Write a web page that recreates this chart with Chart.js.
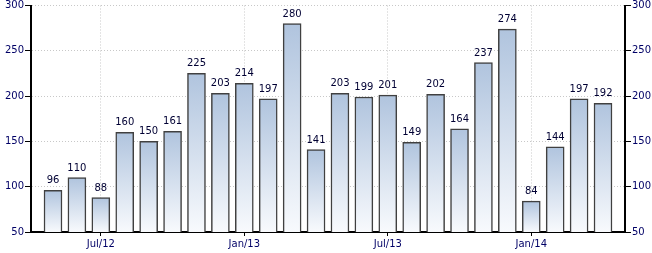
<!DOCTYPE html>
<html>
<head>
<meta charset="utf-8">
<script src="https://cdn.jsdelivr.net/npm/chart.js@4"></script>
<style>
  html, body { margin: 0; padding: 0; background: #fff; }
  #wrap { width: 652px; height: 253px; }
</style>
</head>
<body>
<div id="wrap"><canvas id="chart" width="652" height="253"></canvas></div>
<script>
// May 2012 .. Apr 2014
const months = ["May/12","Jun/12","Jul/12","Aug/12","Sep/12","Oct/12","Nov/12","Dec/12",
  "Jan/13","Feb/13","Mar/13","Apr/13","May/13","Jun/13","Jul/13","Aug/13","Sep/13","Oct/13",
  "Nov/13","Dec/13","Jan/14","Feb/14","Mar/14","Apr/14"];
const values = [96,110,88,160,150,161,225,203,214,197,280,141,203,199,201,149,202,164,237,274,84,144,197,192];
const xTickIdx = [2, 8, 14, 20];
const yTicks = [50, 100, 150, 200, 250, 300];

const fontFamily = "'DejaVu Sans', Verdana, sans-serif";

// value labels above the bars
const valueLabels = {
  id: "valueLabels",
  afterDatasetsDraw(chart) {
    const ctx = chart.ctx;
    const meta = chart.getDatasetMeta(0);
    ctx.save();
    ctx.font = "10px " + fontFamily;
    ctx.fillStyle = "#000033";
    ctx.textAlign = "center";
    ctx.textBaseline = "alphabetic";
    meta.data.forEach(function (bar, i) {
      ctx.fillText(String(values[i]), bar.x, bar.y - 7);
    });
    ctx.restore();
  }
};

function barFill(context) {
  const chart = context.chart;
  if (!chart.chartArea || context.parsed == null) return "#c8d4e6";
  const y = chart.scales.y;
  const top = y.getPixelForValue(context.parsed.y);
  const bottom = y.getPixelForValue(50);
  const g = chart.ctx.createLinearGradient(0, top, 0, bottom);
  g.addColorStop(0, "#b0c4de");
  g.addColorStop(1, "#f8fafd");
  return g;
}

const yCommon = {
  type: "linear",
  min: 50,
  max: 300,
  afterBuildTicks: function (axis) {
    axis.ticks = yTicks.map(function (v) { return { value: v }; });
  },
  ticks: { color: "#000066", font: { family: fontFamily, size: 10, lineHeight: 0.9 }, padding: 1 },
  border: { display: true, color: "#000", width: 2, dash: [1, 2] }
};

new Chart("chart", {
  type: "bar",
  data: {
    datasets: [{
      data: values.map(function (v, i) { return { x: i, y: v }; }),
      backgroundColor: barFill,
      borderColor: "#404040",
      borderWidth: 1.5,
      borderSkipped: "bottom",
      barThickness: 18
    }]
  },
  plugins: [valueLabels],
  options: {
    responsive: false,
    animation: false,
    layout: { padding: 0 },
    plugins: { legend: { display: false }, tooltip: { enabled: false } },
    scales: {
      x: {
        type: "linear",
        offset: false,
        min: -0.92,
        max: 23.92,
        afterBuildTicks: function (axis) {
          axis.ticks = xTickIdx.map(function (v) { return { value: v }; });
        },
        afterFit: function (axis) { axis.height = 21; },
        ticks: {
          color: "#000066",
          font: { family: fontFamily, size: 10 },
          maxRotation: 0,
          autoSkip: false,
          padding: 2,
          callback: function (v) { return months[v]; }
        },
        grid: { offset: false, color: "#c8c8c8", tickColor: "#000", tickLength: 4, tickBorderDash: [], lineWidth: 1 },
        border: { display: true, color: "#000", width: 2, dash: [1, 2] }
      },
      y: Object.assign({}, yCommon, {
        position: "left",
        afterFit: function (axis) { axis.width = 31; },
        grid: { color: "#c8c8c8", tickColor: "#000", tickLength: 6, tickBorderDash: [], lineWidth: 1 }
      }),
      y2: Object.assign({}, yCommon, {
        position: "right",
        afterFit: function (axis) { axis.width = 27; },
        grid: { drawOnChartArea: false, color: "#c8c8c8", tickColor: "#000", tickLength: 6, tickBorderDash: [], lineWidth: 1 }
      })
    }
  }
});
</script>
</body>
</html>
